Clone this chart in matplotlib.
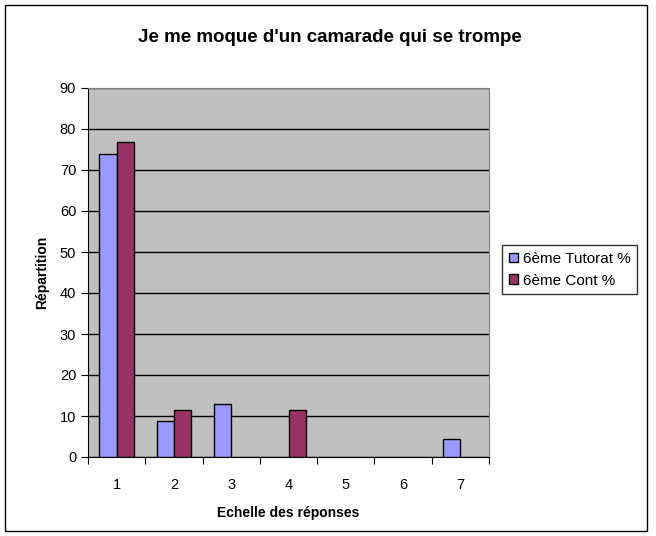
import numpy as np
import matplotlib.pyplot as plt
from matplotlib.patches import Rectangle

plt.rcParams['font.family'] = ['Liberation Sans', 'DejaVu Sans']

# données (None = pas de barre)
categories = ["1", "2", "3", "4", "5", "6", "7"]
tutorat = [73.9, 8.7, 13.0, None, None, None, 4.3]
cont = [76.9, 11.5, None, 11.5, None, None, None]
series_names = ["6ème Tutorat %", "6ème Cont %"]

fig = plt.figure(figsize=(6.56, 5.36), dpi=100)
fig.patches.append(Rectangle((5 / 656, 5 / 536), 642 / 656, 526 / 536, transform=fig.transFigure,
                             fill=False, edgecolor="black", linewidth=1))

ax = fig.add_axes([88 / 656, 79 / 536, 401 / 656, 369 / 536])
ax.set_facecolor("#c0c0c0")

x = np.arange(len(categories))
w = 0.3
t = np.array([np.nan if v is None else v for v in tutorat])
c = np.array([np.nan if v is None else v for v in cont])
ax.bar(x - w / 2, t, w, color="#9999ff", edgecolor="black", linewidth=1, label=series_names[0], zorder=3)
ax.bar(x + w / 2, c, w, color="#993366", edgecolor="black", linewidth=1, label=series_names[1], zorder=3)

ax.set_xlim(-0.5, len(categories) - 0.5)
ax.set_ylim(0, 90)
ax.set_yticks(np.arange(0, 91, 10))
ax.yaxis.grid(True, color="black", linewidth=1, zorder=1)
ax.set_axisbelow(True)

# graduations entre les catégories
ax.set_xticks(np.arange(-0.5, len(categories), 1))
ax.set_xticklabels([])
ax.set_xticks(x, minor=True)
ax.set_xticklabels(categories, minor=True)
ax.tick_params(axis="x", which="major", length=5, direction="out")
ax.tick_params(axis="x", which="minor", length=0, pad=15, labelsize=10.5)
ax.tick_params(axis="y", length=5, direction="out", labelsize=10.5)

for s in ["top", "right"]:
    ax.spines[s].set_color("#808080")
for s in ["left", "bottom"]:
    ax.spines[s].set_color("black")

ax.set_xlabel("Echelle des réponses", fontsize=10, fontweight="bold", labelpad=10)
ax.set_ylabel("Répartition", fontsize=10, fontweight="bold", labelpad=8)
fig.text(330 / 656, 1 - 38 / 536, "Je me moque d'un camarade qui se trompe", ha="center", va="center",
         fontsize=13.5, fontweight="bold")

leg = fig.legend(loc="upper left", bbox_to_anchor=(502 / 656, 1 - 245 / 536), fontsize=11,
                 frameon=True, fancybox=False, edgecolor="black", handlelength=0.6, handleheight=0.6,
                 handletextpad=0.3, borderpad=0.45, labelspacing=0.5, borderaxespad=0)
leg.get_frame().set_linewidth(1)

fig.savefig("out.png", dpi=100)
